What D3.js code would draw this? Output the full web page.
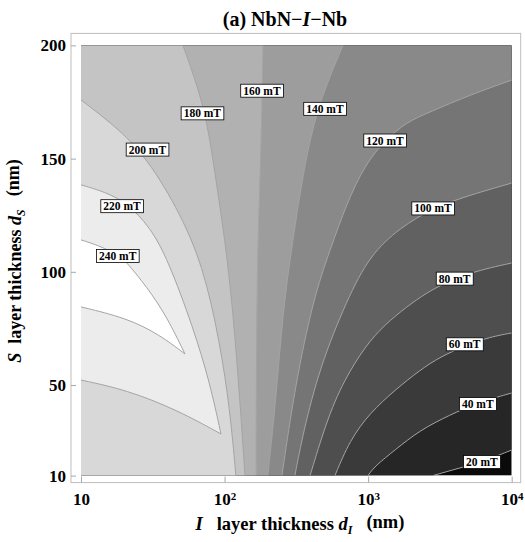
<!DOCTYPE html>
<html>
<head>
<meta charset="utf-8">
<script src="https://cdn.jsdelivr.net/npm/d3@7"></script>
<style>
body { margin: 0; background: #fff; }
svg { display: block; font-family: "Liberation Serif", "Times New Roman", serif; font-weight: bold; }
</style>
</head>
<body>
<svg id="chart" width="525" height="542"></svg>
<script>
// contour levels (mT)
var levels = [20, 40, 60, 80, 100, 120, 140, 160, 180, 200, 220, 240];

// contour lines: [d_I (nm), d_S (nm)]
// each one runs from its top / right / upper end to its bottom / lower end
var line20  = [[10000, 21.3], [6194, 16.0], [4355, 13.4], [2825, 10]];
var line40  = [[10000, 46.5], [5728, 42.1], [3715, 36.8], [2296, 30.1], [1538, 21.3], [1114, 14.2], [998, 10]];
var line60  = [[10000, 73.0], [7047, 71.2], [4875, 67.7], [3162, 62.4], [2296, 56.6], [1538, 47.8], [1030, 37.7], [746, 25.7], [587, 10]];
var line80  = [[10000, 103.9], [6012, 100.8], [3899, 96.8], [2692, 91.6], [2051, 86.6], [1419, 78.7], [1030, 69.9], [746, 56.6], [542, 39.0], [394, 10]];
var line100 = [[10000, 139.2], [5117, 133.9], [2825, 128.2], [1663, 119.4], [1030, 107.4], [711, 87.6], [461, 58.0], [352, 28.8], [309, 10]];
var line120 = [[10000, 184.7], [5117, 178.1], [2692, 170.6], [1862, 166.2], [1309, 158.2], [950, 147.2], [711, 130.4], [542, 109.6], [413, 87.6], [309, 49.1], [251, 10]];
var line140 = [[668, 200], [440, 172.8], [352, 143.7], [299, 114.1], [255, 83.1], [228, 43.4], [200, 10]];
var line160 = [[185, 200], [182, 171.5], [177, 142.8], [170, 109.6], [168, 83.1], [166, 43.4], [166, 10]];
var line180 = [[51.3, 200], [73.1, 172.8], [85.7, 143.7], [100.7, 114.1], [114.3, 83.1], [127.9, 43.4], [138.7, 10]];
var line200 = [[10, 175.9], [15.9, 166.2], [27.0, 152.9], [46.7, 128.6], [70.8, 103.0], [92.9, 68.6], [109.1, 39.0], [119.9, 10]];
var line220 = [[10, 138.4], [14.7, 135.3], [20.9, 130.4], [30.3, 119.8], [40.4, 105.2], [60.3, 75.6], [79.1, 50.9], [94.4, 28.4], [46.7, 39.0], [20.9, 47.8], [10, 52.2]];
var line240 = [[10, 114.1], [13.6, 111.4], [18.1, 107.4], [20.2, 105.2], [28.8, 93.3], [39.7, 80.1], [53.0, 63.7], [35.5, 72.1], [20.9, 79.6], [10, 84.5]];
var contourLines = [line20, line40, line60, line80, line100, line120, line140, line160, line180, line200, line220, line240];

// where each level's label sits: [d_I, d_S]
var labelAt = [[6200, 16], [5800, 41.6], [4700, 68], [4000, 97], [2830, 128], [1310, 158], [500, 172], [182, 180], [70, 170], [29, 154], [19.3, 129], [18, 107]];

var xTicks = [10, 100, 1000, 10000];
var xTickPow = ['', '2', '3', '4'];
var yTicks = [10, 50, 100, 150, 200];

var svg = d3.select('#chart');

var x = d3.scaleLog().domain([10, 10000]).range([81, 511.7]);
var y = d3.scaleLinear().domain([10, 200]).range([475.6, 45.4]);
var gray = d3.scaleLinear().domain([0, 20, 220]).range(['#0a0a0a', '#262626', '#ececec']);

function fillColor(level){
    return level >= 240 ? '#ffffff' : gray(level);
}

var x0 = x.range()[0], x1 = x.range()[1];
var yT = y.range()[1], yB = y.range()[0];
var corners = [[x0, yT], [x1, yT], [x1, yB], [x0, yB]];

// position of a border point, going clockwise from the top-left corner
function perim(p){
    var e = 0.5;
    if (Math.abs(p[1] - yT) < e) return (p[0] - x0) / (x1 - x0);
    if (Math.abs(p[0] - x1) < e) return 1 + (p[1] - yT) / (yB - yT);
    if (Math.abs(p[1] - yB) < e) return 2 + (x1 - p[0]) / (x1 - x0);
    return 3 + (yB - p[1]) / (yB - yT);
}

var line = d3.line()
    .x(function(d){ return x(d[0]); })
    .y(function(d){ return y(d[1]); })
    .curve(d3.curveBasis);

// smooth contour; the wedges keep a sharp tip at their largest d_I
function contourPath(pts){
    var tip = d3.maxIndex(pts, function(d){ return d[0]; });
    if (tip == 0 || tip == pts.length - 1) return line(pts);
    return line(pts.slice(0, tip + 1)) + line(pts.slice(tip)).replace(/^M/, 'L');
}

// region above a level: the contour closed back along the border
function regionPath(pts){
    var first = [x(pts[0][0]), y(pts[0][1])];
    var last = [x(pts[pts.length - 1][0]), y(pts[pts.length - 1][1])];
    var t = perim(last), ts = perim(first);
    if (ts <= t) ts += 4;
    var extra = '';
    for (var k = Math.ceil(t); k < ts; k++){
        extra += 'L' + corners[k % 4][0] + ',' + corners[k % 4][1];
    }
    return contourPath(pts) + extra + 'Z';
}

svg.append('clipPath').attr('id', 'plot-clip')
    .append('rect')
    .attr('x', x0).attr('y', yT)
    .attr('width', x1 - x0).attr('height', yB - yT);

var plot = svg.append('g').attr('clip-path', 'url(#plot-clip)');

plot.append('rect')
    .attr('x', x0).attr('y', yT)
    .attr('width', x1 - x0).attr('height', yB - yT)
    .attr('fill', gray(0));

plot.selectAll('path.band').data(levels)
    .enter()
        .append('path')
        .attr('class', 'band')
        .attr('d', function(d, i){ return regionPath(contourLines[i]); })
        .attr('fill', function(d){ return fillColor(d); })
        .attr('stroke', 'none');

plot.selectAll('path.contour').data(contourLines)
    .enter()
        .append('path')
        .attr('class', 'contour')
        .attr('d', contourPath)
        .attr('fill', 'none')
        .attr('stroke', '#a4a4a4')
        .attr('stroke-width', 1);

// frame around the plot range
var pad = 10;
svg.append('rect')
    .attr('x', x0 - pad).attr('y', yT - 12)
    .attr('width', x1 - x0 + 2 * pad - 1).attr('height', yB - yT + 19)
    .attr('fill', 'none')
    .attr('stroke', '#bdbdbd')
    .attr('stroke-width', 1);

var frameBottom = yB + 7;
var frameLeft = x0 - pad;

var xAxis = svg.append('g')
    .attr('transform', 'translate(0,' + frameBottom + ')')
    .call(d3.axisBottom(x).tickValues(xTicks).tickSizeInner(-6).tickSizeOuter(0).tickPadding(10).tickFormat(function(){ return ''; }));

var yAxis = svg.append('g')
    .attr('transform', 'translate(' + frameLeft + ',0)')
    .call(d3.axisLeft(y).tickValues(yTicks).tickSizeInner(-5).tickSizeOuter(0).tickPadding(5));

[xAxis, yAxis].forEach(function(ax){
    ax.select('.domain').remove();
    ax.selectAll('.tick line').attr('stroke', '#a8a8a8');
    ax.selectAll('.tick text')
        .attr('fill', '#000')
        .attr('font-family', '"Liberation Serif", "Times New Roman", serif')
        .attr('font-weight', 'bold')
        .attr('font-size', 17);
});

xAxis.selectAll('.tick text').each(function(d, i){
    var t = d3.select(this);
    t.append('tspan').text('10');
    if (xTickPow[i]){
        t.append('tspan')
            .attr('dy', '-0.45em')
            .attr('font-size', 11)
            .text(xTickPow[i]);
    }
});

// contour labels
var labels = svg.selectAll('g.clabel').data(levels)
    .enter()
        .append('g')
        .attr('class', 'clabel')
        .attr('transform', function(d, i){
            return 'translate(' + x(labelAt[i][0]) + ',' + y(labelAt[i][1]) + ')';
        });

labels.append('rect');
labels.append('text')
    .attr('text-anchor', 'middle')
    .attr('dy', '0.35em')
    .attr('font-size', 11.5)
    .attr('fill', '#000')
    .text(function(d){ return d + ' mT'; });

labels.each(function(){
    var g = d3.select(this);
    var b = g.select('text').node().getBBox();
    g.select('rect')
        .attr('x', b.x - 2.5).attr('y', b.y - 0.5)
        .attr('width', b.width + 5).attr('height', b.height + 1)
        .attr('fill', '#fff')
        .attr('stroke', '#000')
        .attr('stroke-width', 0.8);
});

// title
var title = svg.append('text')
    .attr('x', 285).attr('y', 26)
    .attr('text-anchor', 'middle')
    .attr('font-size', 20);
title.append('tspan').text('(a) NbN\u2212');
title.append('tspan').attr('font-style', 'italic').text('I');
title.append('tspan').text('\u2212Nb');

// x axis title
var xTitle = svg.append('text')
    .attr('x', 300).attr('y', 530)
    .attr('text-anchor', 'middle')
    .attr('font-size', 18.5);
xTitle.append('tspan').attr('font-style', 'italic').text('I');
xTitle.append('tspan').text('\u00a0\u00a0 layer thickness ');
xTitle.append('tspan').attr('font-style', 'italic').text('d');
xTitle.append('tspan').attr('font-style', 'italic').attr('font-size', 12).attr('dy', '0.35em').text('I');
xTitle.append('tspan').attr('dy', '-0.35em').text('\u00a0\u00a0 (nm)');

// y axis title
var yTitle = svg.append('text')
    .attr('transform', 'translate(21,261) rotate(-90)')
    .attr('text-anchor', 'middle')
    .attr('font-size', 18);
yTitle.append('tspan').attr('font-style', 'italic').text('S');
yTitle.append('tspan').text('\u00a0 layer thickness ');
yTitle.append('tspan').attr('font-style', 'italic').text('d');
yTitle.append('tspan').attr('font-style', 'italic').attr('font-size', 11.5).attr('dy', '0.35em').text('S');
yTitle.append('tspan').attr('dy', '-0.35em').text('\u00a0\u00a0 (nm)');
</script>
</body>
</html>
